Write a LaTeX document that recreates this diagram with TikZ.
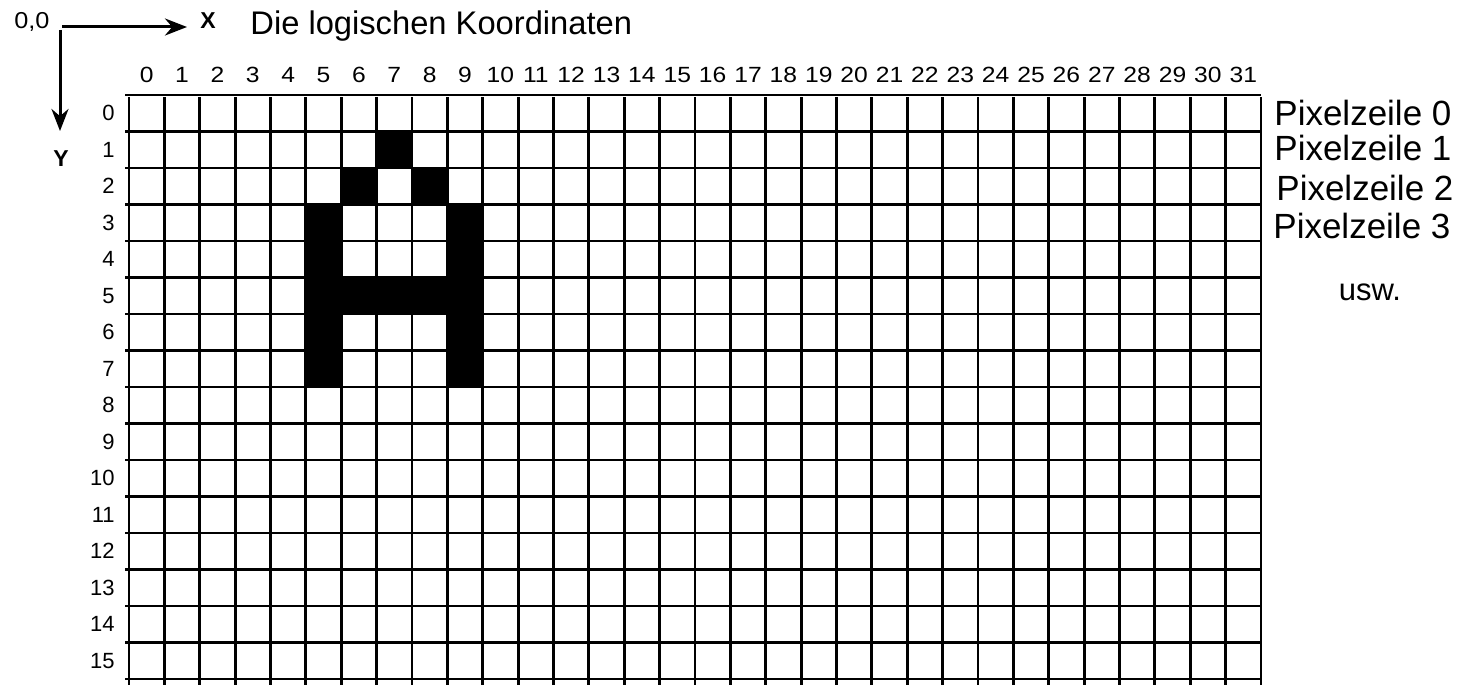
\documentclass[tikz,border=0pt]{standalone}
\usepackage{graphicx}
\usepackage{fontspec}
\setmainfont{Liberation Sans}
\newfontfamily\fettschrift{Liberation Sans Bold}
\usetikzlibrary{arrows.meta}

\tikzset{
    collabel/.style={anchor=base, inner sep=0pt, font=\fontsize{22}{22}\selectfont},
    rowlabel/.style={anchor=east, inner sep=0pt, font=\fontsize{22}{22}\selectfont},
    zeile/.style={anchor=base west, inner sep=0pt, font=\fontsize{35}{35}\selectfont},
    axislabel/.style={anchor=base west, inner sep=0pt, font=\fettschrift\fontsize{23}{23}\selectfont},
    axis/.style={line width=3pt, -{Stealth[length=22pt, width=17pt]}}
}

\begin{document}
\begin{tikzpicture}[x=1pt, y=-1pt, line width=2.8pt]
    \useasboundingbox (0,0) rectangle (1457,685);
    \def\gx{129}
    \def\gy{95}
    \def\cw{35.375}
    \def\ch{36.5}

    % --- Axes in the upper left corner ---
    \coordinate (ox) at (62,27);
    \coordinate (xtip) at (187,27);
    \coordinate (oy) at (60,30);
    \coordinate (ytip) at (60,131);
    \draw[axis] (ox) -- (xtip);
    \draw[axis] (oy) -- (ytip);
    \node[anchor=base west, inner sep=0pt, font=\fontsize{23}{23}\selectfont] (null) at (13,29) {\scalebox{1.1}[1]{0,0}};
    \node[axislabel] (xlab) at (199,29) {X};
    \node[axislabel] (ylab) at (52,166) {Y};
    \node[anchor=base west, inner sep=0pt, font=\fontsize{32.7}{32.7}\selectfont] (titel) at (249,35) {Die logischen Koordinaten};

    % --- The letter A, pixel by pixel ---
    \foreach \c/\r in {7/1, 6/2, 8/2, 5/3, 9/3, 5/4, 9/4, 5/5, 6/5, 7/5, 8/5, 9/5, 5/6, 9/6, 5/7, 9/7}
        \fill (\gx+\c*\cw, \gy+\r*\ch) rectangle ++(\cw,\ch);

    % --- Grid ---
    \foreach \r in {0,...,16}
        \draw (\gx-4, \gy+\r*\ch) -- (\gx+32*\cw, \gy+\r*\ch);
    \foreach \c in {0,...,32}
        \draw (\gx+\c*\cw, \gy+2) -- (\gx+\c*\cw, 685);

    % --- Column and row numbers ---
    \foreach \c in {0,...,31}
        \node[collabel] (c\c) at (\gx+\c*\cw+\cw/2, 82) {\scalebox{1.12}[1]{\c}};
    \foreach \r in {0,...,15}
        \node[rowlabel] (r\r) at (116, \gy+\r*\ch+\ch/2) {\r};

    % --- Pixel rows on the right ---
    \node[zeile] (z0) at (1273,125) {Pixelzeile 0};
    \node[zeile] (z1) at (1273,160) {Pixelzeile 1};
    \node[zeile] (z2) at (1275,200) {Pixelzeile 2};
    \node[zeile] (z3) at (1272,238) {Pixelzeile 3};
    \node[anchor=base, inner sep=0pt, font=\fontsize{31}{31}\selectfont] (usw) at (1370,300) {usw.};
\end{tikzpicture}
\end{document}
